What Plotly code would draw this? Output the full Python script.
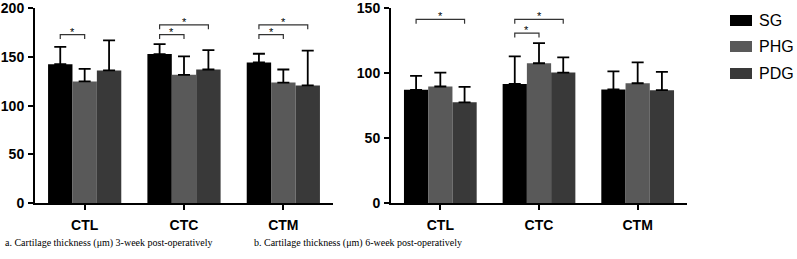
import plotly.graph_objects as go

categories = ["CTL", "CTC", "CTM"]
groups = ["SG", "PHG", "PDG"]
colors = ["#000000", "#595959", "#393939"]

# 3-week values (mean) and SD (upward error)
wk3_mean = {"SG": [142.7, 153.0, 144.4], "PHG": [124.9, 131.7, 123.8], "PDG": [136.2, 137.2, 120.8]}
wk3_sd = {"SG": [17.8, 10.3, 9.0], "PHG": [13.0, 19.0, 13.4], "PDG": [31.0, 20.0, 35.7]}
# 6-week values
wk6_mean = {"SG": [87.2, 91.8, 87.5], "PHG": [89.8, 107.7, 92.3], "PDG": [77.6, 100.5, 87.0]}
wk6_sd = {"SG": [10.8, 21.2, 14.0], "PHG": [10.7, 15.5, 16.1], "PDG": [11.9, 11.7, 14.0]}

# significance brackets: (category index, group i, group j, y level)
sig3 = [(0, 0, 1, 173), (1, 0, 1, 173), (1, 0, 2, 183), (2, 0, 1, 173), (2, 0, 2, 183)]
sig6 = [(0, 0, 2, 141.5), (1, 0, 1, 131), (1, 0, 2, 141.5)]

captions = ["a. Cartilage thickness (μm) 3-week post-operatively",
            "b. Cartilage thickness (μm) 6-week post-operatively"]

yticks3 = [0, 50, 100, 150, 200]
yticks6 = [0, 50, 100, 150]

W, H = 797, 259
MT, MB = 8, 56
PH = H - MT - MB
bargap = 0.263
xs = list(range(len(categories)))

def py(ypix):
    # pixel from top -> paper y
    return (H - MB - ypix) / PH

fig = go.Figure()
for k, g in enumerate(groups):
    fig.add_trace(go.Bar(x=xs, y=wk3_mean[g], name=g, marker=dict(color=colors[k], line=dict(width=0)),
                         error_y=dict(type="data", array=wk3_sd[g], arrayminus=[0]*3, symmetric=False,
                                      color="black", thickness=1.8, width=6),
                         xaxis="x", yaxis="y", showlegend=False))
for k, g in enumerate(groups):
    fig.add_trace(go.Bar(x=xs, y=wk6_mean[g], name=g, marker=dict(color=colors[k], line=dict(width=0)),
                         error_y=dict(type="data", array=wk6_sd[g], arrayminus=[0]*3, symmetric=False,
                                      color="black", thickness=1.8, width=6),
                         xaxis="x2", yaxis="y2", showlegend=False))

bw = (1 - bargap) / 3
def bar_center(ci, gi):
    return ci + (gi - 1) * bw

shapes = []
annotations = []
def add_sig(lst, xr, yr, drop):
    for ci, gi, gj, yv in lst:
        x0, x1 = bar_center(ci, gi), bar_center(ci, gj)
        shapes.append(dict(type="path", xref=xr, yref=yr,
                           path=f"M{x0},{yv-drop} L{x0},{yv} L{x1},{yv} L{x1},{yv-drop}",
                           line=dict(color="#333333", width=1.2)))
        annotations.append(dict(x=(x0+x1)/2, y=yv, xref=xr, yref=yr, text="*", showarrow=False,
                                yanchor="bottom", yshift=-5, font=dict(family="Arial", size=11, color="black")))
add_sig(sig3, "x", "y", 4.5)
add_sig(sig6, "x2", "y2", 3.4)

# legend drawn manually
leg_y = [20.5, 46.5, 73.5]
for k, g in enumerate(groups):
    shapes.append(dict(type="rect", xref="paper", yref="paper", x0=730/W, x1=752/W,
                       y0=py(leg_y[k] + 5.5), y1=py(leg_y[k] - 5.5), fillcolor=colors[k], line=dict(width=0)))
    annotations.append(dict(x=757/W, y=py(leg_y[k]), xref="paper", yref="paper", text=g, showarrow=False,
                            xanchor="left", yanchor="middle",
                            font=dict(family="Liberation Sans, Arial", size=16, color="black")))

for cx, txt in zip([109/W, 357.5/W], captions):
    annotations.append(dict(x=cx, y=py(243), xref="paper", yref="paper", text=txt, showarrow=False,
                            xanchor="center", yanchor="middle",
                            font=dict(family="Liberation Serif, Times New Roman", size=10, color="black")))

axis_common = dict(showline=True, linecolor="black", linewidth=2, ticks="outside", ticklen=5,
                   tickwidth=2, tickcolor="black", showgrid=False, zeroline=False,
                   tickfont=dict(family="Liberation Sans, Arial", size=14, color="black", weight="bold"))

fig.update_layout(
    width=W, height=H, margin=dict(l=0, r=0, t=MT, b=MB),
    plot_bgcolor="white", paper_bgcolor="white",
    barmode="group", bargap=bargap, bargroupgap=0,
    xaxis=dict(domain=[35/W, 333/W], range=[-0.5, 2.5], tickvals=xs, ticktext=categories,
               ticklabelstandoff=3, **axis_common),
    xaxis2=dict(domain=[391/W, 687/W], range=[-0.5, 2.5], tickvals=xs, ticktext=categories, anchor="y2",
                ticklabelstandoff=3, **axis_common),
    yaxis=dict(range=[0, 200.4], tickvals=yticks3, anchor="x", ticklabelstandoff=1, **axis_common),
    yaxis2=dict(range=[0, 150.3], tickvals=yticks6, anchor="x2", ticklabelstandoff=1, **axis_common),
    shapes=shapes, annotations=annotations, showlegend=False,
)

fig.write_html("out.html", config={"displayModeBar": False},
               post_script="document.body.style.margin='0px';")
